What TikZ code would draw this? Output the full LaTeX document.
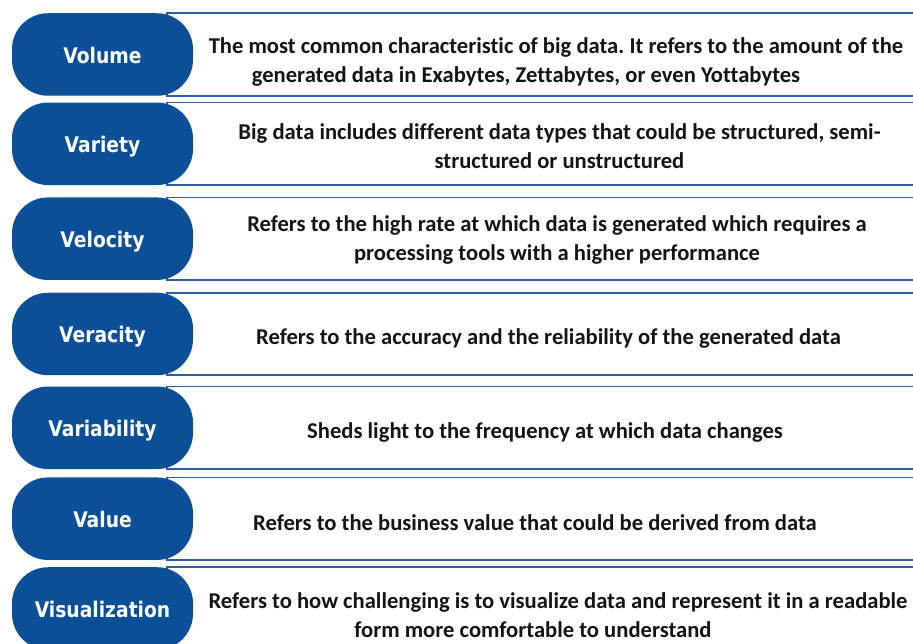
\documentclass[tikz,border=0pt]{standalone}
\usepackage{fontspec}
\setmainfont{Carlito}[Ligatures=NoCommon]
\newfontfamily\pillfont{DejaVu Sans}[FakeStretch=0.87]
\usetikzlibrary{positioning}
\definecolor{bigblue}{RGB}{10,79,151}
\definecolor{lineblue}{RGB}{44,92,166}
\definecolor{textgray}{RGB}{20,20,20}
\frenchspacing
\begin{document}
\begin{tikzpicture}[x=1pt,y=1pt,
    pill/.style={rectangle,fill=bigblue,rounded corners=36pt,minimum width=181pt,minimum height=82.5pt,
        inner sep=0pt,outer sep=0pt,text height=18pt,text depth=0pt,text=white,
        font=\pillfont\bfseries\fontsize{21.5}{24}\selectfont},
    descbox/.style={rectangle,draw=lineblue,line width=1.7pt,fill=white,minimum width=763pt,minimum height=82.5pt,
        inner sep=0pt,outer sep=0pt},
    desc/.style={align=center,inner sep=0pt,text=textgray,font=\bfseries\fontsize{22.6}{29}\selectfont}]
    \useasboundingbox (0,0) rectangle (913,644);
    \clip (0,0) rectangle (913,644);
    % white boxes first, the pills go on top of their left ends
    \node [descbox] (volBox) at (548.5,589.5) {};
    \node [descbox] (varBox) at (548.5,500.2) {};
    \node [descbox] (velBox) at (548.5,405.3) {};
    \node [descbox] (verBox) at (548.5,310.0) {};
    \node [descbox] (vblBox) at (548.5,216.2) {};
    \node [descbox] (valBox) at (548.5,125.3) {};
    \node [descbox] (visBox) at (548.5,35.5) {};
    % descriptions
    \node [desc] (volTxt) at ([xshift=7.5pt,yshift=-7.5pt]volBox.center) {The most common characteristic of big data. It refers to the amount of the\\\hspace*{-60pt}generated data in Exabytes, Zettabytes, or even Yottabytes};
    \node [desc] (varTxt) at ([xshift=11pt,yshift=-2.7pt]varBox.center) {Big data includes different data types that could be structured, semi-\\structured or unstructured};
    \node [desc] (velTxt) at ([xshift=8.5pt,yshift=-1.3pt]velBox.center) {Refers to the high rate at which data is generated which requires a\\processing tools with a higher performance};
    \node [desc] (verTxt) at ([yshift=-4pt]verBox.center) {Refers to the accuracy and the reliability of the generated data};
    \node [desc] (vblTxt) at ([xshift=-3.5pt,yshift=-5pt]vblBox.center) {Sheds light to the frequency at which data changes};
    \node [desc] (valTxt) at ([xshift=-13.5pt,yshift=-4.3pt]valBox.center) {Refers to the business value that could be derived from data};
    \node [desc] (visTxt) at ([xshift=9.5pt,yshift=-6.5pt]visBox.center) {Refers to how challenging is to visualize data and represent it in a readable\\\hspace*{-50pt}form more comfortable to understand};
    % the seven V's
    \node [pill,left=-26pt of volBox] (vol) {Volume};
    \node [pill,left=-26pt of varBox] (var) {Variety};
    \node [pill,left=-26pt of velBox] (vel) {Velocity};
    \node [pill,left=-26pt of verBox] (ver) {Veracity};
    \node [pill,left=-26pt of vblBox] (vbl) {Variability};
    \node [pill,left=-26pt of valBox] (val) {Value};
    \node [pill,left=-26pt of visBox] (vis) {Visualization};
\end{tikzpicture}
\end{document}
